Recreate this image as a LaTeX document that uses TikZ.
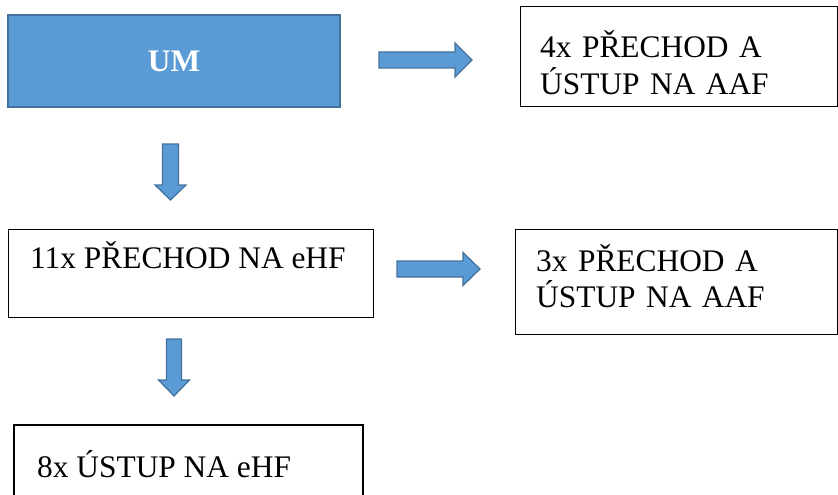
\documentclass[tikz,border=0pt]{standalone}
\usepackage{fontspec}
\setmainfont{Liberation Serif}
\definecolor{umfill}{HTML}{5B9BD5}
\definecolor{umedge}{HTML}{41719C}
\newcommand\myRArrow[6]{%
  \draw[blockarrow] (#1,#4-#5) -- (#2,#4-#5) -- (#2,#4-#6) -- (#3,#4) -- (#2,#4+#6) -- (#2,#4+#5) -- (#1,#4+#5) -- cycle;}
\newcommand\myDArrow[6]{%
  \draw[blockarrow] (#4-#5,#1) -- (#4+#5,#1) -- (#4+#5,#2) -- (#4+#6,#2) -- (#4,#3) -- (#4-#6,#2) -- (#4-#5,#2) -- cycle;}
\begin{document}
\begin{tikzpicture}[x=1pt,y=-1pt,
  box/.style={draw=black, line width=1pt, inner sep=0pt, fill=white},
  boxtext/.style={inner sep=0pt, font=\fontsize{31.4}{36}\selectfont},
  blockarrow/.style={fill=umfill, draw=umedge, line width=1.2pt, line join=miter}]
\useasboundingbox (0,0) rectangle (838,495);
% UM box
\node[box, fill=umfill, draw=umedge, line width=1.6pt, minimum width=332pt, minimum height=92pt,
      text=white, font=\fontsize{31.4}{36}\selectfont\bfseries] (um) at (174,61) {UM};
% right boxes
\node[box, minimum width=317.5pt, minimum height=99pt] (b4) at (678.75,56.5) {};
\node[boxtext, anchor=base west, text width=295pt, align=left] (t4) at (540,58) {4x PŘECHOD A\\ÚSTUP NA AAF};
\node[box, minimum width=322.5pt, minimum height=105pt] (b3) at (676.25,281.5) {};
\node[boxtext, anchor=base west, text width=295pt, align=left] (t3) at (536,271) {3x PŘECHOD A\\ÚSTUP NA AAF};
% left boxes
\node[box, minimum width=365pt, minimum height=88pt] (b11) at (190.5,273) {};
\node[boxtext, anchor=base west] (t11) at (30,268) {11x PŘECHOD NA eHF};
\node[box, line width=2pt, minimum width=349pt, minimum height=85pt] (b8) at (188.5,467.5) {};
\node[boxtext, anchor=base west] (t8) at (37,477) {8x ÚSTUP NA eHF};
% block arrows
\myRArrow{379}{455}{472}{60}{8}{17}
\myRArrow{397}{463}{480}{269}{8}{16.5}
\myDArrow{144}{185}{200}{170.5}{8}{15.5}
\myDArrow{339}{380}{396}{174}{7.5}{15.5}
\end{tikzpicture}
\end{document}
